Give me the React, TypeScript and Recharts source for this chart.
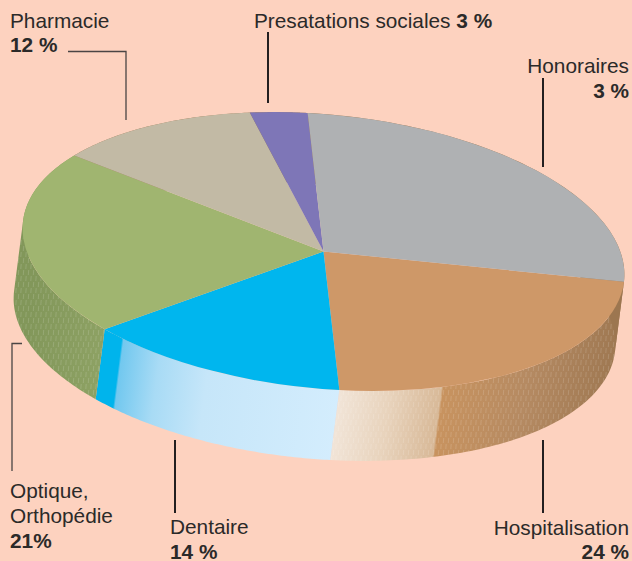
import React from 'react';
import { PieChart, Pie, Sector } from 'recharts';

const categories = ['Hospitalisation', 'Dentaire', 'Optique, Orthopédie', 'Pharmacie', 'Presatations sociales', 'Honoraires'];
// read off the drawn slices, not the printed labels
const shares = [23.3, 13.8, 21.5, 11.6, 3.1, 26.7];
const sliceColors = ['#CE9868', '#00B6EE', '#A0B570', '#C2BAA5', '#7E76B7', '#AFB1B3'];

const data = categories.map((name, i) => ({ name, value: shares[i], fill: sliceColors[i], index: i }));

// pie is a flat circle, squashed and tilted to look like the 3D original
const CX = 323.5;
const CY = 251.5;
const RX = 302;
const RY = 137;
const TILT = 5.5;
const DEPTH_X = -9;
const DEPTH_Y = 70;

// x positions are taken halfway down the wall, the gradient is skewed along the extrusion
const wallStops: Record<number, [number, string][]> = {
  0: [[335, '#F1E4D7'], [385, '#E8D3BC'], [436, '#D8B998'], [438, '#C8935F'], [520, '#B58A62'], [616, '#9C7650']],
  1: [[96, '#00B4EC'], [110, '#00B4EC'], [112, '#72C8EF'], [150, '#A8DBF5'], [200, '#C6E6F9'], [340, '#D4EDFD']],
  2: [[14, '#82975A'], [104, '#8FA365']],
};
const texturedWalls = [0, 2];
const WALL_MID_Y = 430;

const tiltTransform = `translate(${CX} ${CY}) rotate(${TILT}) scale(1 ${RY / RX}) translate(${-CX} ${-CY})`;
const wallSkew = `translate(${(-DEPTH_X / DEPTH_Y) * WALL_MID_Y} 0) skewX(${(Math.atan(DEPTH_X / DEPTH_Y) * 180) / Math.PI})`;

function edgePoint(angle: number) {
  const t = (-angle * Math.PI) / 180;
  const tilt = (TILT * Math.PI) / 180;
  const u = RX * Math.cos(t);
  const v = RY * Math.sin(t);
  return [CX + u * Math.cos(tilt) - v * Math.sin(tilt), CY + u * Math.sin(tilt) + v * Math.cos(tilt)];
}

function TopSlice(props: any) {
  return (
    <g transform={tiltTransform}>
      <Sector
        cx={props.cx}
        cy={props.cy}
        innerRadius={0}
        outerRadius={props.outerRadius}
        startAngle={props.startAngle}
        endAngle={props.endAngle}
        fill={props.fill}
        stroke="none"
      />
    </g>
  );
}

function WallSlice(props: any) {
  const index = props.payload?.index ?? props.index;
  const steps = 80;
  let d = '';
  // one quad per step, all wound the same way so that none of them cancels out
  for (let i = 0; i < steps; i++) {
    const a = edgePoint(props.startAngle + ((props.endAngle - props.startAngle) * i) / steps);
    const b = edgePoint(props.startAngle + ((props.endAngle - props.startAngle) * (i + 1)) / steps);
    const cross = (b[0] - a[0]) * DEPTH_Y - (b[1] - a[1]) * DEPTH_X;
    const quad = [a, b, [b[0] + DEPTH_X, b[1] + DEPTH_Y], [a[0] + DEPTH_X, a[1] + DEPTH_Y]];
    if (cross < 0) quad.reverse();
    d += 'M' + quad.map(([x, y]) => `${x.toFixed(2)},${y.toFixed(2)}`).join('L') + 'Z';
  }
  return (
    <g>
      <path d={d} fill={wallStops[index] ? `url(#wall-${index})` : '#9C7650'} />
      {texturedWalls.includes(index) && <path d={d} fill="url(#wall-dash)" />}
    </g>
  );
}

const labelStyle = { fontFamily: 'Liberation Sans, Arial, sans-serif', fontSize: 20.8, fill: '#2B2A29' };

export default function App() {
  return (
    <div style={{ position: 'absolute', left: 0, top: 0, width: 632, height: 561, background: '#FDD2BF', overflow: 'hidden' }}>
      <PieChart width={632} height={561} margin={{ top: 0, right: 0, bottom: 0, left: 0 }}>
        <defs>
          {Object.entries(wallStops).map(([i, stops]) => (
            <linearGradient
              key={i}
              id={`wall-${i}`}
              gradientUnits="userSpaceOnUse"
              gradientTransform={wallSkew}
              x1={0}
              y1={0}
              x2={632}
              y2={0}
            >
              {stops.map(([x, c]) => (
                <stop key={x} offset={x / 632} stopColor={c} />
              ))}
            </linearGradient>
          ))}
          <pattern id="wall-dash" patternUnits="userSpaceOnUse" width={5} height={12}>
            <path d="M1.2,0 L0.8,5 M3.7,6 L3.3,11" stroke="#fff" strokeOpacity={0.18} strokeWidth={0.8} />
          </pattern>
        </defs>

        <Pie
          data={data}
          dataKey="value"
          nameKey="name"
          cx={CX}
          cy={CY}
          outerRadius={RX}
          startAngle={-0.6}
          endAngle={-360.6}
          stroke="none"
          shape={WallSlice}
          isAnimationActive={false}
        />
        <Pie
          data={data}
          dataKey="value"
          nameKey="name"
          cx={CX}
          cy={CY}
          outerRadius={RX}
          startAngle={-0.6}
          endAngle={-360.6}
          stroke="none"
          shape={TopSlice}
          isAnimationActive={false}
        />

        {/* leader lines */}
        <path d="M68,51.5 H126 V120" fill="none" stroke="#4A4544" strokeWidth={1.3} />
        <path d="M268,32 V103" fill="none" stroke="#231F20" strokeWidth={2} />
        <path d="M543,78 V167" fill="none" stroke="#231F20" strokeWidth={2} />
        <path d="M22,343.5 H12 V471" fill="none" stroke="#4A4544" strokeWidth={1.3} />
        <path d="M175,440 V513" fill="none" stroke="#231F20" strokeWidth={2} />
        <path d="M543,440 V513" fill="none" stroke="#231F20" strokeWidth={2} />

        {/* labels */}
        <text x={10} y={27.5} {...labelStyle}>Pharmacie</text>
        <text x={10} y={52} {...labelStyle} fontWeight="bold">12 %</text>
        <text x={254} y={28} {...labelStyle}>
          Presatations sociales <tspan fontWeight="bold">3 %</tspan>
        </text>
        <text x={629} y={73} textAnchor="end" {...labelStyle}>Honoraires</text>
        <text x={629} y={98} textAnchor="end" {...labelStyle} fontWeight="bold">3 %</text>
        <text x={10} y={498} {...labelStyle}>Optique,</text>
        <text x={10} y={523} {...labelStyle}>Orthopédie</text>
        <text x={10} y={548} {...labelStyle} fontWeight="bold">21%</text>
        <text x={170} y={534} {...labelStyle}>Dentaire</text>
        <text x={170} y={559} {...labelStyle} fontWeight="bold">14 %</text>
        <text x={629} y={535} textAnchor="end" {...labelStyle}>Hospitalisation</text>
        <text x={629} y={559} textAnchor="end" {...labelStyle} fontWeight="bold">24 %</text>
      </PieChart>
    </div>
  );
}
